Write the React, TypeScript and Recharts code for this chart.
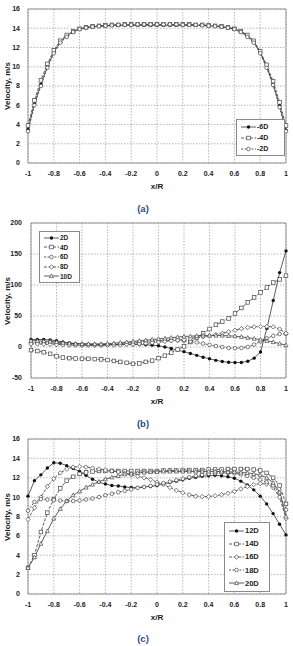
import React from 'react';
import { CartesianGrid, Legend, Line, LineChart, ReferenceArea, XAxis, YAxis } from 'recharts';

const FONT = "'Liberation Sans', Arial, sans-serif";

// radial stations x/R, shared by all three profiles
const xR = [
  -1, -0.95, -0.9, -0.85, -0.8, -0.75, -0.7, -0.65, -0.6, -0.55, -0.5, -0.45, -0.4, -0.35, -0.3, -0.25, -0.2,
  -0.15, -0.1, -0.05, 0, 0.05, 0.1, 0.15, 0.2, 0.25, 0.3, 0.35, 0.4, 0.45, 0.5, 0.55, 0.6, 0.65, 0.7, 0.75, 0.8,
  0.85, 0.9, 0.95, 1,
];
const xTicks = [-1, -0.8, -0.6, -0.4, -0.2, 0, 0.2, 0.4, 0.6, 0.8, 1];

// (a) upstream stations
const velUp6D = [
  3.5, 6.2, 8.2, 10.0, 11.5, 12.6, 13.2, 13.65, 13.9, 14.05, 14.15, 14.2, 14.25, 14.3, 14.3, 14.3, 14.3, 14.3,
  14.3, 14.3, 14.3, 14.3, 14.3, 14.3, 14.3, 14.3, 14.3, 14.3, 14.25, 14.2, 14.15, 14.05, 13.9, 13.65, 13.2, 12.6,
  11.5, 10.0, 8.2, 6.0, 3.4,
];
const velUp4D = [
  3.9, 6.5, 8.6, 10.3, 11.7, 12.7, 13.3, 13.7, 13.95, 14.1, 14.2, 14.25, 14.3, 14.35, 14.35, 14.4, 14.4, 14.4,
  14.4, 14.4, 14.4, 14.4, 14.4, 14.4, 14.4, 14.4, 14.35, 14.35, 14.3, 14.25, 14.2, 14.1, 13.95, 13.7, 13.3, 12.7,
  11.6, 10.2, 8.5, 6.3, 3.9,
];
const velUp2D = [
  3.3, 6.0, 8.0, 9.9, 11.4, 12.5, 13.1, 13.6, 13.9, 14.05, 14.15, 14.2, 14.25, 14.3, 14.35, 14.35, 14.35, 14.4,
  14.4, 14.4, 14.4, 14.4, 14.4, 14.4, 14.35, 14.35, 14.35, 14.3, 14.25, 14.2, 14.15, 14.05, 13.9, 13.6, 13.1,
  12.5, 11.4, 9.9, 8.1, 5.8, 3.3,
];

// (b) near-field stations
const vel2D = [
  12, 12, 12, 11.5, 10, 8, 6.5, 5.5, 5, 4.5, 4, 4, 4, 4, 4, 4, 4, 4, 3.5, 3, 2, 0, -2.5, -5, -7.5, -10.5, -13.5,
  -16.5, -19, -21.5, -23.5, -24.5, -25, -25, -23, -18, -8, 30, 75, 120, 155,
];
const vel4D = [
  -5, -6.5, -8.5, -11, -15, -17, -18, -18.5, -19, -19, -19.5, -20, -21, -22.5, -24, -25.5, -27, -26.5, -24,
  -22, -18, -14, -9, -4, 1, 8, 15, 22, 29, 36, 41, 46, 54, 63, 72, 80, 88, 96, 104, 109, 115,
];
const vel6D = [
  7, 7, 7, 6.5, 6, 5, 4, 3.5, 3, 3, 3, 3, 3.5, 4, 5, 6, 7, 8, 9, 9.5, 10, 10.5, 11, 10.5, 10, 9, 7.5, 5.5, 3.5,
  1.5, 0, -1.5, -2, -1.5, 0, 4, 9, 14, 18, 21, 21,
];
const vel8D = [
  5, 5, 4.5, 4, 4, 3.5, 3, 3, 3, 3, 3, 3, 3, 3, 3.5, 4, 4.5, 5, 6, 7, 8, 9, 10, 11, 12, 13.5, 15, 16.5, 18, 20,
  22, 24.5, 27, 29.5, 31.5, 32.5, 33, 33, 32.5, 29, 22,
];
const vel10D = [
  10, 10, 9.5, 9, 8, 7, 6, 5.5, 5, 5, 5, 5, 5.5, 6, 7, 8, 9, 10, 11, 12, 13, 14, 15, 16, 17, 17.5, 18, 18.5,
  18.5, 18.5, 18.5, 18, 17.5, 16.5, 15, 13.5, 12, 10, 8, 5.5, 3,
];

// (c) far-field stations
const vel12D = [
  10.1, 11.7, 12.3, 13.0, 13.55, 13.5, 13.25, 12.95, 12.65, 12.25, 11.85, 11.55, 11.35, 11.2, 11.15, 11.05,
  11.0, 11.0, 11.05, 11.1, 11.2, 11.35, 11.5, 11.65, 11.8, 11.95, 12.05, 12.15, 12.2, 12.25, 12.2, 12.1, 11.95,
  11.65, 11.25, 10.75, 10.1, 9.3, 8.3, 7.2, 6.1,
];
const vel14D = [
  2.7, 4.0, 6.4, 8.4, 9.8, 10.9, 11.7, 12.1, 12.4, 12.55, 12.65, 12.7, 12.7, 12.7, 12.7, 12.7, 12.7, 12.7,
  12.7, 12.7, 12.7, 12.75, 12.75, 12.75, 12.8, 12.8, 12.8, 12.8, 12.85, 12.85, 12.85, 12.9, 12.9, 12.9, 12.9,
  12.85, 12.75, 12.5, 12.0, 11.2, 9.3,
];
const vel16D = [
  7.7, 8.9, 10.0, 11.1, 11.9, 12.5, 12.9, 13.1, 13.15, 13.1, 13.0, 12.9, 12.8, 12.7, 12.6, 12.45, 12.3, 12.15,
  12.0, 11.8, 11.55, 11.3, 11.0, 10.7, 10.45, 10.25, 10.1, 10.05, 10.05, 10.15, 10.25, 10.4, 10.6, 10.85, 11.1,
  11.3, 11.4, 11.35, 11.0, 10.0, 7.8,
];
const vel18D = [
  8.6, 9.5, 9.8, 9.75, 9.7, 9.65, 9.6, 9.6, 9.65, 9.75, 9.85, 10.0, 10.2, 10.35, 10.5, 10.65, 10.8, 10.95,
  11.05, 11.15, 11.3, 11.45, 11.6, 11.75, 11.9, 12.05, 12.2, 12.3, 12.4, 12.45, 12.5, 12.5, 12.45, 12.35, 12.2,
  12.0, 11.8, 11.55, 11.2, 10.4, 8.7,
];
const vel20D = [
  2.7, 3.8, 5.2, 6.5, 7.8, 8.8, 9.6, 10.2, 10.6, 11.0, 11.3, 11.6, 11.85, 12.05, 12.2, 12.35, 12.45, 12.5,
  12.55, 12.6, 12.6, 12.65, 12.65, 12.65, 12.65, 12.65, 12.65, 12.65, 12.65, 12.65, 12.65, 12.6, 12.6, 12.55,
  12.5, 12.4, 12.3, 12.0, 11.5, 10.5, 8.0,
];

type Shape = 'dot' | 'square' | 'circle' | 'diamond' | 'triangle';
type Series = { key: string; name: string; values: number[]; shape: Shape; dash?: string };

function Marker({ cx, cy, shape }: { cx?: number; cy?: number; shape: Shape }) {
  if (cx == null || cy == null || Number.isNaN(cx) || Number.isNaN(cy)) return null;
  const open = { fill: '#fff', stroke: '#444', strokeWidth: 0.7 };
  switch (shape) {
    case 'dot':
      return <circle cx={cx} cy={cy} r={1.7} fill="#111" />;
    case 'square':
      return <rect x={cx - 1.8} y={cy - 1.8} width={3.6} height={3.6} {...open} />;
    case 'circle':
      return <circle cx={cx} cy={cy} r={1.8} {...open} />;
    case 'diamond':
      return <polygon points={`${cx},${cy - 2.2} ${cx + 2.2},${cy} ${cx},${cy + 2.2} ${cx - 2.2},${cy}`} {...open} />;
    default:
      return <polygon points={`${cx},${cy - 2.1} ${cx + 2},${cy + 1.6} ${cx - 2},${cy + 1.6}`} {...open} />;
  }
}

type PanelProps = {
  top: number;
  caption: string;
  series: Series[];
  yDomain: [number, number];
  yTicks: number[];
  yWidth: number;
  tickGap: number;
  plotTop: number;
  plotBottom: number;
  legendBox: { left: number; top: number; width: number; rowH: number; fontSize: number };
};

function LegendBox({ series, box }: { series: Series[]; box: PanelProps['legendBox'] }) {
  return (
    <div
      style={{
        border: '1px solid #8a8a8a',
        background: '#fff',
        width: box.width,
        padding: '1px 0',
        boxSizing: 'border-box',
        fontFamily: FONT,
        fontWeight: 700,
        fontSize: box.fontSize,
        color: '#222',
      }}
    >
      {series.map((s) => (
        <div key={s.key} style={{ display: 'flex', alignItems: 'center', height: box.rowH, paddingLeft: 4 }}>
          <svg width={15} height={8} style={{ marginRight: 1 }}>
            <line x1={0} y1={4} x2={15} y2={4} stroke="#333" strokeWidth={0.8} strokeDasharray={s.dash} />
            <Marker cx={7.5} cy={4} shape={s.shape} />
          </svg>
          <span>{s.name}</span>
        </div>
      ))}
    </div>
  );
}

function Panel(p: PanelProps) {
  const chartH = 200;
  const xAxisH = 30;
  const data = xR.map((x, i) => {
    const row: Record<string, number> = { x };
    p.series.forEach((s) => {
      row[s.key] = s.values[i];
    });
    return row;
  });
  const tick = { fontSize: 7, fontWeight: 700, fill: '#222', fontFamily: FONT };
  const midY = (p.plotTop + p.plotBottom) / 2;

  return (
    <div style={{ position: 'absolute', left: 0, top: p.top, width: 293, height: 216 }}>
      <LineChart
        width={293}
        height={chartH}
        data={data}
        margin={{ top: p.plotTop, right: 7, left: 0, bottom: chartH - p.plotBottom - xAxisH }}
      >
        <CartesianGrid stroke="#9a9a9a" strokeWidth={0.7} strokeDasharray="1.5 1.5" />
        <XAxis
          dataKey="x"
          type="number"
          domain={[-1, 1]}
          ticks={xTicks}
          interval={0}
          height={xAxisH}
          tickLine={false}
          axisLine={false}
          tick={tick}
        />
        <YAxis
          type="number"
          domain={p.yDomain}
          ticks={p.yTicks}
          interval={0}
          width={p.yWidth}
          tickLine={false}
          axisLine={false}
          tickMargin={p.tickGap}
          tick={tick}
        />
        <ReferenceArea
          x1={-1}
          x2={1}
          y1={p.yDomain[0]}
          y2={p.yDomain[1]}
          fill="none"
          stroke="#8a8a8a"
          strokeWidth={0.9}
          ifOverflow="visible"
        />
        {p.series.map((s) => (
          <Line
            key={s.key}
            type="linear"
            dataKey={s.key}
            name={s.name}
            stroke="#333"
            strokeWidth={0.8}
            strokeDasharray={s.dash}
            isAnimationActive={false}
            activeDot={false}
            dot={(d: any) => <Marker key={`${s.key}-${d.index}`} cx={d.cx} cy={d.cy} shape={s.shape} />}
          />
        ))}
        <Legend
          layout="vertical"
          align="center"
          verticalAlign="middle"
          wrapperStyle={{ left: p.legendBox.left, top: p.legendBox.top, width: 'auto' }}
          content={() => <LegendBox series={p.series} box={p.legendBox} />}
        />
      </LineChart>

      <div
        style={{
          position: 'absolute',
          left: 7,
          top: midY,
          transform: 'translate(-50%, -50%) rotate(-90deg)',
          whiteSpace: 'nowrap',
          fontFamily: FONT,
          fontWeight: 700,
          fontSize: 8,
          color: '#222',
        }}
      >
        Velocity, m/s
      </div>
      <div
        style={{
          position: 'absolute',
          left: 157,
          top: p.plotBottom + 23,
          transform: 'translate(-50%, -50%)',
          fontFamily: FONT,
          fontWeight: 700,
          fontSize: 8,
          color: '#222',
        }}
      >
        x/R
      </div>
      <div
        style={{
          position: 'absolute',
          left: 143,
          top: 208,
          transform: 'translate(-50%, -50%)',
          fontFamily: FONT,
          fontWeight: 700,
          fontSize: 9.5,
          color: '#2f4c8f',
        }}
      >
        {p.caption}
      </div>
    </div>
  );
}

const upstream: Series[] = [
  { key: 'u6', name: '-6D', values: velUp6D, shape: 'dot' },
  { key: 'u4', name: '-4D', values: velUp4D, shape: 'square', dash: '3 1.5' },
  { key: 'u2', name: '-2D', values: velUp2D, shape: 'circle', dash: '2 1.5' },
];
const nearField: Series[] = [
  { key: 'd2', name: '2D', values: vel2D, shape: 'dot' },
  { key: 'd4', name: '4D', values: vel4D, shape: 'square', dash: '3 1.5' },
  { key: 'd6', name: '6D', values: vel6D, shape: 'circle', dash: '2 1.5' },
  { key: 'd8', name: '8D', values: vel8D, shape: 'diamond', dash: '3 1.5' },
  { key: 'd10', name: '10D', values: vel10D, shape: 'triangle' },
];
const farField: Series[] = [
  { key: 'f12', name: '12D', values: vel12D, shape: 'dot' },
  { key: 'f14', name: '14D', values: vel14D, shape: 'square', dash: '3 1.5' },
  { key: 'f16', name: '16D', values: vel16D, shape: 'diamond', dash: '3 1.5' },
  { key: 'f18', name: '18D', values: vel18D, shape: 'circle', dash: '2 1.5' },
  { key: 'f20', name: '20D', values: vel20D, shape: 'triangle' },
];

export default function App() {
  return (
    <div style={{ position: 'relative', width: 293, height: 646, background: '#fff', overflow: 'hidden' }}>
      <style>{'body{margin:0}'}</style>
      <Panel
        top={0}
        caption="(a)"
        series={upstream}
        yDomain={[0, 16]}
        yTicks={[0, 2, 4, 6, 8, 10, 12, 14, 16]}
        yWidth={28}
        tickGap={2}
        plotTop={9}
        plotBottom={163}
        legendBox={{ left: 236, top: 119, width: 49, rowH: 11, fontSize: 7 }}
      />
      <Panel
        top={215}
        caption="(b)"
        series={nearField}
        yDomain={[-50, 200]}
        yTicks={[-50, 0, 50, 100, 150, 200]}
        yWidth={31}
        tickGap={3}
        plotTop={8}
        plotBottom={163}
        legendBox={{ left: 39, top: 16, width: 41, rowH: 9.6, fontSize: 6.5 }}
      />
      <Panel
        top={430}
        caption="(c)"
        series={farField}
        yDomain={[0, 16]}
        yTicks={[0, 2, 4, 6, 8, 10, 12, 14, 16]}
        yWidth={28}
        tickGap={2}
        plotTop={9}
        plotBottom={164}
        legendBox={{ left: 224, top: 92, width: 46, rowH: 13.2, fontSize: 7.5 }}
      />
    </div>
  );
}
